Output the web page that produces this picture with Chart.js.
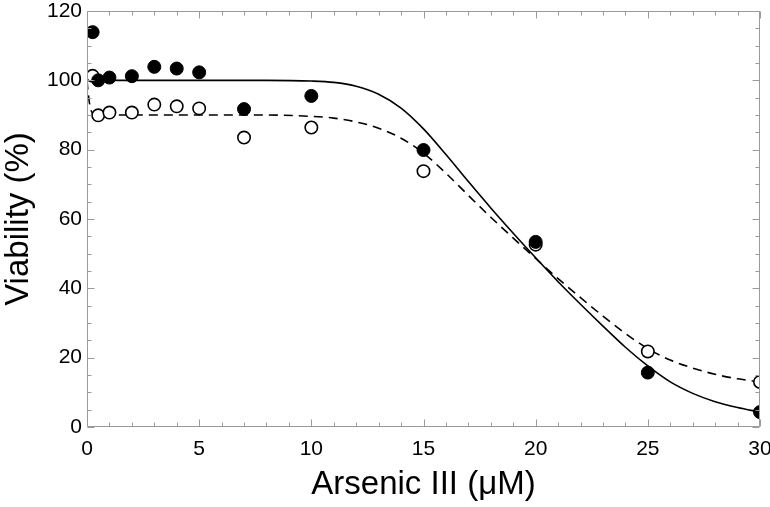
<!DOCTYPE html>
<html><head><meta charset="utf-8">
<script src="https://cdn.jsdelivr.net/npm/chart.js@4/dist/chart.umd.min.js"></script>
<style>html,body{margin:0;padding:0;background:#fff}</style>
</head><body>
<canvas id="c" width="770" height="507"></canvas>
<script>
// Measured data (filled circles)
const filledDoses = [0.25, 0.5, 1, 2, 3, 4, 5, 7, 10, 15, 20, 25, 30];
const filledViability = [113.9, 100.0, 100.8, 101.2, 103.9, 103.4, 102.3, 91.7, 95.5, 79.9, 53.4, 15.7, 4.3];
// Measured data (open circles)
const openDoses = [0.25, 0.5, 1, 2, 3, 4, 5, 7, 10, 15, 20, 25, 30];
const openViability = [101.3, 89.9, 90.7, 90.7, 93.0, 92.5, 91.9, 83.5, 86.4, 73.8, 52.6, 21.8, 13.0];
// Fitted curve (solid)
const solidFitX = [0, 2, 5, 8, 10, 11, 12, 13, 14, 15, 16, 17, 18, 19, 20, 21, 22, 23, 24, 25, 26, 27, 28, 29, 30];
const solidFitY = [100, 100, 100, 100, 99.8, 99.4, 98.3, 96.0, 92.0, 86.0, 78.6, 70.8, 63.2, 55.9, 48.8, 41.9, 35.4, 29.1, 23.0, 17.6, 13.0, 9.7, 7.3, 5.6, 4.3];
// Fitted curve (dashed)
const dashedFitX = [0, 0.05, 0.15, 0.3, 0.6, 2, 5, 8, 10, 11, 12, 13, 14, 15, 16, 17, 18, 19, 20, 21, 22, 23, 24, 25, 26, 27, 28, 29, 30];
const dashedFitY = [100, 96.5, 92.0, 90.4, 90.0, 90.0, 90.0, 90.0, 89.6, 89.1, 88.0, 86.2, 83.3, 79.0, 73.2, 66.8, 60.5, 54.5, 48.6, 42.8, 37.3, 32.0, 27.0, 22.6, 19.3, 17.0, 15.2, 13.9, 13.0];
// Axis ticks
const xTickValues = [0, 5, 10, 15, 20, 25, 30];
const yTickValues = [0, 20, 40, 60, 80, 100, 120];
const xMinorStep = 1;
const yMinorStep = 5;

const toPts = (xs, ys) => xs.map((v, i) => ({x: v, y: ys[i]}));

const framePlugin = {
  id: 'frame',
  afterDraw(chart) {
    const {ctx, chartArea: a, scales: {x, y}} = chart;
    ctx.save();
    ctx.strokeStyle = '#9a9a9a';
    ctx.lineWidth = 1;
    ctx.beginPath();
    const L = Math.round(a.left) + 0.5, R = Math.round(a.right) - 0.5;
    const T = Math.round(a.top) + 0.5, B = Math.round(a.bottom) - 0.5;
    ctx.rect(L, T, R - L, B - T);
    for (let v = x.min; v <= x.max + 1e-9; v += xMinorStep) {
      const p = Math.round(x.getPixelForValue(v)) + 0.5;
      const len = xTickValues.includes(v) ? 7 : 4;
      ctx.moveTo(p, B); ctx.lineTo(p, B - len);
      ctx.moveTo(p, T); ctx.lineTo(p, T + len);
    }
    for (let v = y.min; v <= y.max + 1e-9; v += yMinorStep) {
      const p = Math.round(y.getPixelForValue(v)) + 0.5;
      const len = yTickValues.includes(v) ? 7 : 4;
      ctx.moveTo(L, p); ctx.lineTo(L + len, p);
      ctx.moveTo(R, p); ctx.lineTo(R - len, p);
    }
    ctx.stroke();
    ctx.restore();
  }
};

const tickFont = {family: '"Liberation Sans", Arial, sans-serif', size: 21};
const titleFont = {family: '"Liberation Sans", Arial, sans-serif', size: 33, lineHeight: 1};

new Chart(document.getElementById('c'), {
  type: 'scatter',
  data: {
    datasets: [
      {data: toPts(filledDoses, filledViability), pointRadius: 6.5, pointBackgroundColor: '#000', pointBorderColor: '#000', pointBorderWidth: 1},
      {data: toPts(openDoses, openViability), pointRadius: 6.2, pointBackgroundColor: '#fff', pointBorderColor: '#000', pointBorderWidth: 1.6},
      {data: toPts(solidFitX, solidFitY), showLine: true, pointRadius: 0, borderColor: '#000', borderWidth: 1.6, cubicInterpolationMode: 'monotone'},
      {data: toPts(dashedFitX, dashedFitY), showLine: true, pointRadius: 0, borderColor: '#000', borderWidth: 1.6, borderDash: [9, 6], cubicInterpolationMode: 'monotone'}
    ]
  },
  options: {
    responsive: false,
    animation: false,
    devicePixelRatio: 1,
    layout: {padding: {top: 11, right: 10, left: 0, bottom: 0}},
    plugins: {legend: {display: false}, tooltip: {enabled: false}},
    scales: {
      x: {
        type: 'linear', min: 0, max: 30,
        border: {display: false},
        grid: {display: false, drawTicks: false},
        afterBuildTicks: s => { s.ticks = xTickValues.map(v => ({value: v})); },
        ticks: {font: tickFont, color: '#000', padding: 10, maxRotation: 0, autoSkip: false},
        afterFit: s => { s.height = 80; s.paddingLeft = 0; s.paddingRight = 0; },
        title: {display: true, text: 'Arsenic III (\u03BCM)', font: titleFont, color: '#000', padding: {top: 0, bottom: 6}}
      },
      y: {
        type: 'linear', min: 0, max: 120,
        border: {display: false},
        grid: {display: false, drawTicks: false},
        afterBuildTicks: s => { s.ticks = yTickValues.map(v => ({value: v})); },
        ticks: {font: tickFont, color: '#000', padding: 5, autoSkip: false},
        afterFit: s => { s.width = 87; s.paddingTop = 0; s.paddingBottom = 0; },
        title: {display: true, text: 'Viability (%)', font: titleFont, color: '#000', padding: {top: 2, bottom: 0}}
      }
    }
  },
  plugins: [framePlugin]
});
</script>
</body></html>
